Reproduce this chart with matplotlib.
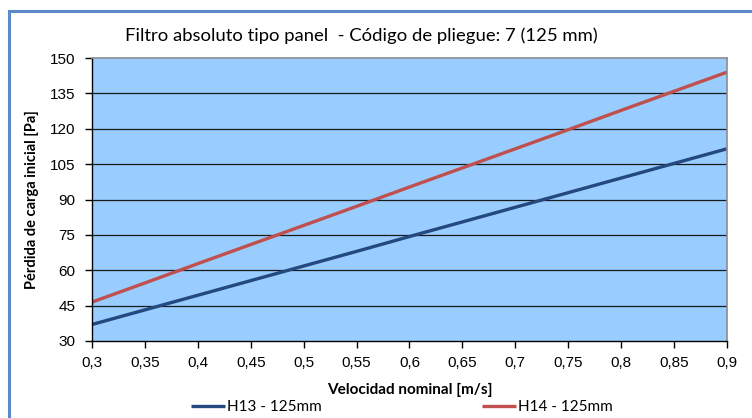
import matplotlib
matplotlib.use("Agg")
import matplotlib.pyplot as plt
from matplotlib.patches import Rectangle
from matplotlib.ticker import FuncFormatter

# data
velocidad = [0.30, 0.35, 0.40, 0.45, 0.50, 0.55, 0.60, 0.65, 0.70, 0.75, 0.80, 0.85, 0.90]
h13 = [37.0, 43.2, 49.4, 55.6, 61.8, 68.0, 74.3, 80.5, 86.7, 92.9, 99.1, 105.3, 111.5]
h14 = [46.5, 54.6, 62.8, 70.9, 79.0, 87.1, 95.3, 103.4, 111.5, 119.6, 127.8, 135.9, 144.0]
series_names = ["H13 - 125mm", "H14 - 125mm"]
y_ticks = list(range(30, 151, 15))

title = "Filtro absoluto tipo panel  - Código de pliegue: 7 (125 mm)"
xlabel = "Velocidad nominal [m/s]"
ylabel = "Pérdida de carga inicial [Pa]"

W, H = 752, 418
fig = plt.figure(figsize=(W / 100, H / 100), dpi=100)

# blue outer frame (only left and top are inside the picture)
fig.patches.append(Rectangle((8.5 / W, -0.2), 1.5, 1.2 - 11 / H,
                             transform=fig.transFigure, fill=False,
                             edgecolor="#5B8BC9", linewidth=2.2))

ax = fig.add_axes([92 / W, 1 - 341 / H, (727 - 92) / W, (341 - 58) / H])
ax.set_facecolor("#99CCFF")

ax.plot(velocidad, h13, color="#23497F", lw=2.4, label=series_names[0], solid_capstyle="butt")
ax.plot(velocidad, h14, color="#C0504D", lw=2.4, label=series_names[1], solid_capstyle="butt")

ax.set_xlim(0.3, 0.9)
ax.set_ylim(30, 150)
ax.set_xticks(velocidad)
ax.set_yticks(y_ticks)
ax.xaxis.set_major_formatter(FuncFormatter(lambda v, p: ("%g" % round(v, 2)).replace(".", ",")))
for y in y_ticks[1:-1]:
    ax.axhline(y, color="#1a1a1a", lw=0.9, zorder=0.5)

for s in ["top", "right"]:
    ax.spines[s].set_color("#8c8c8c")
    ax.spines[s].set_linewidth(1.2)
for s in ["left", "bottom"]:
    ax.spines[s].set_color("black")
    ax.spines[s].set_linewidth(1.0)

ax.tick_params(axis="both", direction="out", length=5, width=1, labelsize=11)
ax.tick_params(axis="x", pad=6)
ax.tick_params(axis="y", pad=7)
for lab in ax.get_xticklabels() + ax.get_yticklabels():
    lab.set_fontfamily("Liberation Sans")

fig.text(361 / W, 1 - 36 / H, title, ha="center", va="center", fontsize=13.3, family="Lato")
ax.set_xlabel(xlabel, fontsize=11, fontweight="bold", family="Lato", labelpad=9)
ax.set_ylabel(ylabel, fontsize=10.5, fontweight="bold", family="Lato", labelpad=8)

leg = fig.legend(loc="center", bbox_to_anchor=(402 / W, 1 - 407 / H), ncol=2, frameon=False,
                 prop={"family": "Lato", "size": 11}, handlelength=2.2, handletextpad=0.15,
                 columnspacing=10.5, borderaxespad=0)

fig.savefig("out.png", dpi=100)
